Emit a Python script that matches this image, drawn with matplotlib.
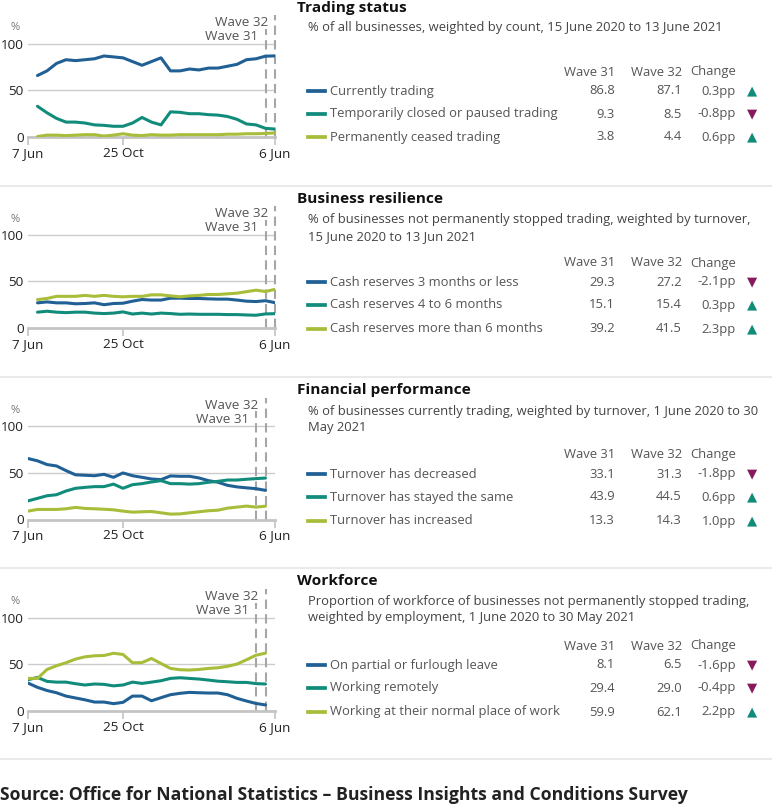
import matplotlib
matplotlib.use("Agg")
import matplotlib.pyplot as plt
import matplotlib.dates as mdates
import numpy as np
import datetime as dt

plt.rcParams['font.family'] = ['Open Sans', 'DejaVu Sans']

W, H = 772, 808

# ---------------- data ----------------
dates_a = [dt.date(2020, 6, 21) + dt.timedelta(days=14 * i) for i in range(26)]   # panels 1-2
dates_b = [dt.date(2020, 6, 7) + dt.timedelta(days=14 * i) for i in range(26)]    # panels 3-4

trading_current = [66, 71, 79, 83, 82, 83, 84, 87, 86, 85, 81, 77, 81, 85, 71, 71, 73, 72, 74, 74, 76, 78, 83, 84, 86.8, 87.1]
trading_paused = [33, 26, 20, 16, 16, 15, 13, 12.5, 11.5, 11.5, 15, 21, 16, 13, 27, 26.5, 25, 25, 24, 23.5, 22, 19, 14, 13, 9.3, 8.5]
trading_ceased = [0.5, 2, 2, 1.5, 2, 2.5, 2.5, 1, 2, 3.5, 2, 1.5, 2.5, 2, 2, 2.5, 2.5, 2.5, 2.5, 2.5, 3, 3, 3.5, 3.5, 3.8, 4.4]

cash_3m = [27, 28, 27, 27, 26, 26.3, 27, 25, 26.3, 26.6, 28.8, 30.6, 30, 30, 32, 32, 31.7, 31.7, 31.3, 31, 31, 30, 28.8, 28.4, 29.3, 27.2]
cash_4_6m = [17, 18, 17, 16.5, 17, 17, 16, 15.5, 16, 17.3, 15, 16, 15, 16, 15.5, 14.7, 15, 14.7, 14.7, 14.7, 14.4, 14.4, 14, 13.7, 15.1, 15.4]
cash_6m_plus = [30.5, 31.7, 34, 34, 34, 35, 34, 35, 34, 33.5, 34, 34, 35.6, 35.6, 34.5, 33.5, 34.5, 35, 36, 36, 36.7, 37.4, 39, 40.6, 39.2, 41.5]

turn_decreased = [65.5, 63, 59, 57.5, 52.5, 48, 47.5, 47, 48.5, 45.3, 50, 47, 45.3, 43.5, 42.8, 46.8, 46.4, 46.4, 44.6, 41.7, 40, 36.7, 35, 34, 33.1, 31.3]
turn_same = [20, 22.7, 25.5, 26.6, 30.6, 33.5, 34.5, 35.3, 35.3, 38, 33.5, 37.4, 38.5, 40.3, 41.7, 38.5, 38.5, 38, 38.5, 40, 41, 42.4, 42.4, 43.2, 43.9, 44.5]
turn_increased = [9, 10.8, 10.8, 10.8, 11.5, 13, 11.9, 11.5, 11, 10.4, 9, 7.9, 8.3, 8.6, 7.2, 5.8, 6, 7.2, 8.3, 9.4, 10, 12.2, 13.3, 14.4, 13.3, 14.3]

work_furlough = [30, 25.4, 22, 19.6, 16, 14, 12, 9.6, 9.6, 7.9, 9.3, 16, 16, 11, 14.3, 17.5, 19, 20, 19.6, 19.3, 19.3, 17.5, 13.6, 10.7, 8.1, 6.5]
work_remote = [33.6, 36, 31.8, 31, 31, 29.3, 27.9, 29, 28.6, 27, 27.9, 31, 29.6, 31, 32.5, 35, 35.7, 35, 34.3, 33.2, 32, 31.4, 30.7, 30.7, 29.4, 29]
work_normal = [35, 35, 44.6, 48.6, 51.8, 55.7, 58.2, 59.3, 59.6, 62, 60.7, 51.8, 52, 56.4, 51, 45.7, 44.3, 44, 44.6, 45.7, 46.4, 48, 50.4, 55, 59.9, 62.1]

titles = ["Trading status", "Business resilience", "Financial performance", "Workforce"]
subtitles = [
    ["% of all businesses, weighted by count, 15 June 2020 to 13 June 2021"],
    ["% of businesses not permanently stopped trading, weighted by turnover,", "15 June 2020 to 13 Jun 2021"],
    ["% of businesses currently trading, weighted by turnover, 1 June 2020 to 30", "May 2021"],
    ["Proportion of workforce of businesses not permanently stopped trading,", "weighted by employment, 1 June 2020 to 30 May 2021"],
]
series_labels = [
    ["Currently trading", "Temporarily closed or paused trading", "Permanently ceased trading"],
    ["Cash reserves 3 months or less", "Cash reserves 4 to 6 months", "Cash reserves more than 6 months"],
    ["Turnover has decreased", "Turnover has stayed the same", "Turnover has increased"],
    ["On partial or furlough leave", "Working remotely", "Working at their normal place of work"],
]
wave31_values = [["86.8", "9.3", "3.8"], ["29.3", "15.1", "39.2"], ["33.1", "43.9", "13.3"], ["8.1", "29.4", "59.9"]]
wave32_values = [["87.1", "8.5", "4.4"], ["27.2", "15.4", "41.5"], ["31.3", "44.5", "14.3"], ["6.5", "29.0", "62.1"]]
change_values = [["0.3pp", "-0.8pp", "0.6pp"], ["-2.1pp", "0.3pp", "2.3pp"], ["-1.8pp", "0.6pp", "1.0pp"], ["-1.6pp", "-0.4pp", "2.2pp"]]

panel_series = [
    (dates_a, [trading_current, trading_paused, trading_ceased], dt.date(2021, 5, 23), dt.date(2021, 6, 6)),
    (dates_a, [cash_3m, cash_4_6m, cash_6m_plus], dt.date(2021, 5, 23), dt.date(2021, 6, 6)),
    (dates_b, [turn_decreased, turn_same, turn_increased], dt.date(2021, 5, 9), dt.date(2021, 5, 23)),
    (dates_b, [work_furlough, work_remote, work_normal], dt.date(2021, 5, 9), dt.date(2021, 5, 23)),
]

x_ticks = [dt.date(2020, 6, 7), dt.date(2020, 10, 25), dt.date(2021, 6, 6)]
x_tick_labels = ["7 Jun", "25 Oct", "6 Jun"]
y_ticks = [0, 50, 100]

colors = ["#206095", "#118c7b", "#a8bd3a"]
UP, DOWN = "#118c7b", "#871a5b"

# ---------------- layout ----------------
fig = plt.figure(figsize=(W / 100, H / 100), dpi=100)

def fx(px):
    return px / W

def fy(py):
    return 1 - py / H

baselines = [137, 328, 519.5, 711]
ax_left, ax_right = 28, 275
ax_h = 122
ylim_top = 131

title_y = [8, 199, 390, 581]
sub_y = [[28], [220, 237], [411, 428], [602, 618]]
header_y = [72, 263, 454, 646]
rows_y = [[91, 114, 137], [282, 305, 329], [474, 497, 521], [665, 688, 712]]
separators = [186, 377, 568, 759]

TXT = "#555555"
FS = 9.4
for i in range(4):
    dates, series, w31, w32 = panel_series[i]
    b = baselines[i]
    ax = fig.add_axes([fx(ax_left), fy(b), fx(ax_right - ax_left), ax_h / H])
    ax.set_xlim(mdates.date2num(dt.date(2020, 6, 7)), mdates.date2num(dt.date(2021, 6, 6)))
    ax.set_ylim(0, ylim_top)
    for s, c in zip(series, colors):
        ax.plot(mdates.date2num(dates), s, color=c, lw=2.2, solid_capstyle='round', zorder=3)
    for yv in [50, 100]:
        ax.axhline(yv, color="#cccccc", lw=1, zorder=1)
    for sp in ["top", "right", "left"]:
        ax.spines[sp].set_visible(False)
    ax.spines["bottom"].set_color("#c4c4c4")
    ax.spines["bottom"].set_linewidth(2)
    ax.set_xticks(mdates.date2num(x_ticks))
    ax.set_xticklabels(x_tick_labels)
    ax.set_yticks(y_ticks)
    ax.set_yticklabels([str(v) for v in y_ticks])
    ax.tick_params(axis='y', length=0, pad=3, labelsize=9.7, labelcolor="#222222")
    ax.tick_params(axis='x', length=6, width=1.2, color="#c4c4c4", pad=1, labelsize=9.7, labelcolor="#222222")
    # wave lines
    x31, x32 = mdates.date2num(w31), mdates.date2num(w32)
    ax.plot([x31, x31], [0, 116], color="#a6a6a6", lw=1.5, ls=(0, (4.5, 2.5)), zorder=2, clip_on=False)
    ax.plot([x32, x32], [0, ylim_top], color="#a6a6a6", lw=1.5, ls=(0, (4.5, 2.5)), zorder=2, clip_on=False)
    ax.annotate("Wave 32", (x32, 122.6), xytext=(-5, 0), textcoords="offset points",
                ha="right", va="center", fontsize=9.7, color="#555555")
    ax.annotate("Wave 31", (x31, 107.5), xytext=(-5, 0), textcoords="offset points",
                ha="right", va="center", fontsize=9.7, color="#555555")
    fig.text(fx(15), fy(b - 109), "%", fontsize=8, color="#777777", ha="center", va="center")

    # text block
    fig.text(fx(297), fy(title_y[i]), titles[i], fontsize=11.1, fontweight="bold", color="#111111", va="center")
    for line, yy in zip(subtitles[i], sub_y[i]):
        fig.text(fx(308), fy(yy), line, fontsize=FS, color="#444444", va="center")
    fig.text(fx(615), fy(header_y[i]), "Wave 31", fontsize=FS, color=TXT, va="center", ha="right")
    fig.text(fx(682), fy(header_y[i]), "Wave 32", fontsize=FS, color=TXT, va="center", ha="right")
    fig.text(fx(736), fy(header_y[i]), "Change", fontsize=FS, color=TXT, va="center", ha="right")
    for j in range(3):
        yy = rows_y[i][j]
        fig.add_artist(plt.Line2D([fx(308), fx(325)], [fy(yy), fy(yy)], color=colors[j], lw=2.7))
        fig.text(fx(330), fy(yy), series_labels[i][j], fontsize=FS, color=TXT, va="center")
        fig.text(fx(615), fy(yy), wave31_values[i][j], fontsize=FS, color=TXT, va="center", ha="right")
        fig.text(fx(682), fy(yy), wave32_values[i][j], fontsize=FS, color=TXT, va="center", ha="right")
        fig.text(fx(736), fy(yy), change_values[i][j], fontsize=FS, color=TXT, va="center", ha="right")
        neg = change_values[i][j].startswith("-")
        fig.text(fx(752), fy(yy), "▼" if neg else "▲", fontsize=9.5, family="DejaVu Sans",
                 color=DOWN if neg else UP, va="center", ha="center")

for sy in separators:
    fig.add_artist(plt.Line2D([0, 1], [fy(sy), fy(sy)], color="#eaeaea", lw=1.5))

fig.text(fx(0), fy(795), "Source: Office for National Statistics \u2013 Business Insights and Conditions Survey",
         fontsize=12.7, fontweight="bold", color="#222222", va="center")

fig.savefig("out.png", dpi=100)
